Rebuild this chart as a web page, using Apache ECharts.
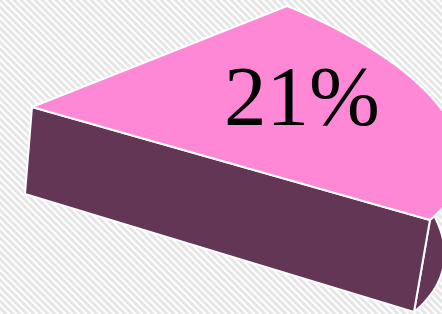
<!DOCTYPE html>
<html>
<head>
<meta charset="utf-8">
<script src="https://cdn.jsdelivr.net/npm/echarts@6/dist/echarts.min.js"></script>
<style>
  html, body { margin: 0; padding: 0; }
  #main { width: 442px; height: 314px; }
</style>
</head>
<body>
<div id="main"></div>
<script>
// data
var sliceNames = ['A'];
var slicePercents = [21];

var chart = echarts.init(document.getElementById('main'), null, { renderer: 'canvas' });

// diagonal striped background
function stripes() {
  var n = 7;
  var c = document.createElement('canvas');
  c.width = n; c.height = n;
  var g = c.getContext('2d');
  g.fillStyle = '#ffffff';
  g.fillRect(0, 0, n, n);
  g.strokeStyle = '#e6e6e6';
  g.lineWidth = 3;
  g.beginPath();
  g.moveTo(-2, -2); g.lineTo(n + 2, n + 2);
  g.moveTo(-2, n - 2); g.lineTo(2, n + 2);
  g.moveTo(n - 2, -2); g.lineTo(n + 2, 2);
  g.stroke();
  return c;
}

// pseudo 3d projection of the disc
var center = [32, 107];
var axisU = [255, -101];
var axisV = [345.4, 142.6];

function proj(theta) {
  return [
    center[0] + Math.cos(theta) * axisU[0] + Math.sin(theta) * axisV[0],
    center[1] + Math.cos(theta) * axisU[1] + Math.sin(theta) * axisV[1]
  ];
}
// depth grows a little to the right (perspective)
function down(p) {
  var t = (p[0] - center[0]) / 398;
  return [p[0] - 7 - 9 * t, p[1] + 87 + 5 * t];
}

function renderItem(params, api) {
  var pct = api.value(1);
  var span = pct / 100 * Math.PI * 2;
  var arc = [];
  var steps = 60;
  for (var i = 0; i <= steps; i++) {
    arc.push(proj(span * i / steps));
  }
  var arcDown = arc.map(down).reverse();
  var B = arc[arc.length - 1];
  var white = { stroke: '#ffffff', lineWidth: 2, lineJoin: 'round' };
  return {
    type: 'group',
    children: [
      {
        type: 'polygon',
        shape: { points: arc.concat(arcDown) },
        style: Object.assign({ fill: '#633656' }, white)
      },
      {
        type: 'polygon',
        shape: { points: [center, B, down(B), down(center)] },
        style: Object.assign({ fill: '#633656' }, white)
      },
      {
        type: 'polygon',
        shape: { points: [center].concat(arc) },
        style: Object.assign({ fill: '#ff88d6' }, white)
      },
      {
        type: 'text',
        x: 302,
        y: 103,
        style: {
          text: pct + '%',
          fill: '#000000',
          font: '85px "Liberation Serif", "Times New Roman", serif',
          align: 'center',
          verticalAlign: 'middle'
        }
      }
    ]
  };
}

var option = {
  backgroundColor: { image: stripes(), repeat: 'repeat' },
  animation: false,
  series: [{
    type: 'custom',
    coordinateSystem: 'none',
    renderItem: renderItem,
    data: sliceNames.map(function (n, i) { return [i, slicePercents[i]]; })
  }]
};

chart.setOption(option);
</script>
</body>
</html>
